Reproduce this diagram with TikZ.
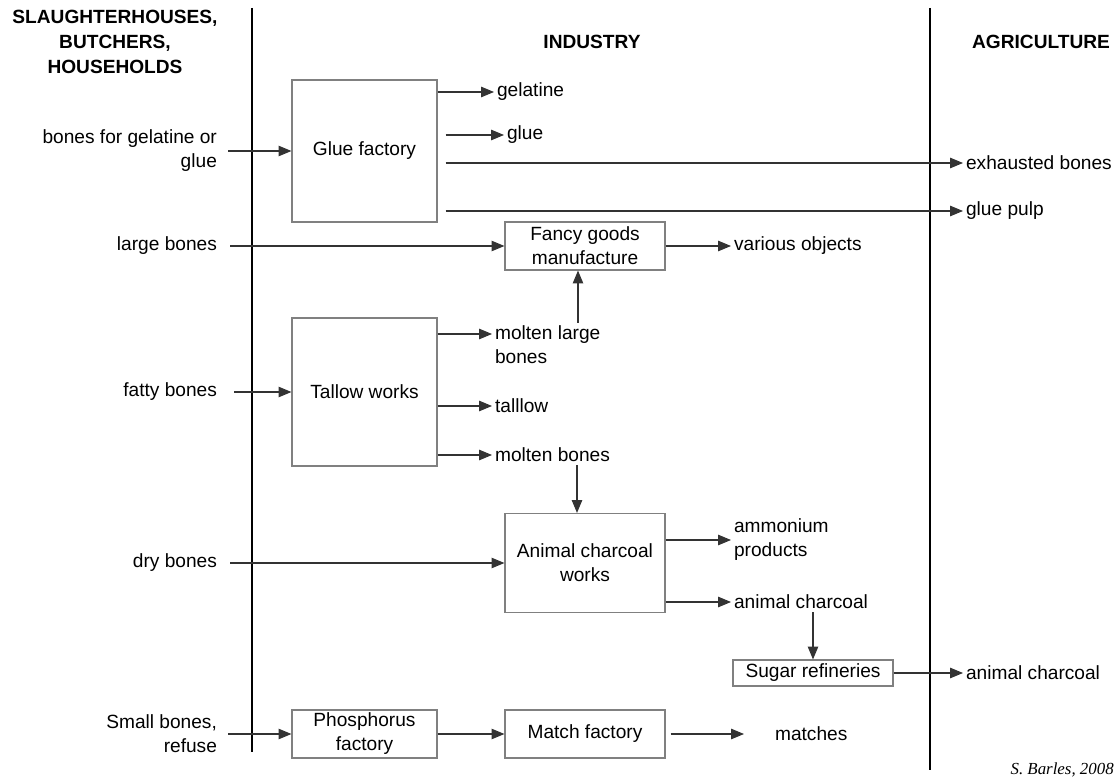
\documentclass[tikz,border=0pt]{standalone}
\usepackage{fontspec}
\setmainfont{Liberation Sans}
\newfontfamily\creditfont{Liberation Serif}
\usetikzlibrary{arrows.meta}

\begin{document}
\begin{tikzpicture}[x = 0.025cm, y = -0.025cm,
		txt/.style = {font = \fontsize{13.6}{17}\selectfont, inner sep = 2pt},
		head/.style = {font = \fontsize{13.6}{17.5}\selectfont\bfseries, align = center, inner sep = 0pt},
		factory/.style = {txt, draw = gray, line width = 0.8pt, align = center, minimum width = #1},
		inlabel/.style = {txt, anchor = east, align = right},
		outlabel/.style = {txt, anchor = west, align = left},
		flow/.style = {draw = black!80, line width = 0.75pt, -{Triangle[length = 0.32cm, width = 0.26cm]}},
		divider/.style = {line width = 1.8pt}]
		\useasboundingbox (0, 0) rectangle (1118, 780);
		\draw[divider] (252, 8) -- (252, 752);
		\draw[divider] (930, 8) -- (930, 770);
		\node[head] (source) at (115, 42) {SLAUGHTERHOUSES,\\BUTCHERS,\\HOUSEHOLDS};
		\node[head] (industry) at (592, 42) {INDUSTRY};
		\node[head] (agriculture) at (1041, 42) {AGRICULTURE};
		%%%%%%%%%
		\node[factory = 3.625cm, minimum height = 3.55cm] (glue) at (364.5, 151) {Glue factory};
		\node[inlabel] (ingelatine) at (220, 151) {bones for gelatine or\\glue};
		\draw[flow] (ingelatine.east) ++(8, 0) -- (glue.west);
		\node[outlabel] (gelatine) at (494, 92) {gelatine};
		\draw[flow] (glue.east |- gelatine.west) -- (gelatine.west);
		\node[outlabel] (gluetxt) at (504, 135) {glue};
		\draw[flow] (glue.east |- gluetxt.west) ++(8, 0) -- (gluetxt.west);
		\node[outlabel] (exhausted) at (963, 163) {exhausted bones};
		\draw[flow] (glue.east |- exhausted.west) ++(8, 0) -- (exhausted.west);
		\node[outlabel] (pulp) at (963, 211) {glue pulp};
		\draw[flow] (glue.east |- pulp.west) ++(8, 0) -- (pulp.west);
		%%%%%%%%%
		\node[factory = 4cm, minimum height = 1.2cm] (fancy) at (585, 246) {Fancy goods\\manufacture};
		\node[inlabel] (inlarge) at (220, 246) {large bones};
		\draw[flow] (inlarge.east) ++(10, 0) -- (fancy.west);
		\node[outlabel] (objects) at (731, 246) {various objects};
		\draw[flow] (fancy.east |- objects.west) -- (objects.west);
		%%%%%%%%%
		\node[factory = 3.625cm, minimum height = 3.7cm] (tallow) at (364.5, 392) {Tallow works};
		\node[inlabel] (infatty) at (220, 392) {fatty bones};
		\draw[flow] (infatty.east) ++(14, 0) -- (tallow.west);
		\node[outlabel, anchor = north west] (moltenlarge) at (492, 323) {molten large\\bones};
		\draw[flow] (tallow.east |- 0, 334) -- (moltenlarge.west |- 0, 334);
		\draw[flow] (moltenlarge.north -| 578, 0) -- (fancy.south -| 578, 0);
		\node[outlabel] (tallowtxt) at (492, 406) {talllow};
		\draw[flow] (tallow.east |- tallowtxt.west) -- (tallowtxt.west);
		\node[outlabel] (moltenbones) at (492, 455) {molten bones};
		\draw[flow] (tallow.east |- moltenbones.west) -- (moltenbones.west);
		%%%%%%%%%
		\node[factory = 4cm, minimum height = 2.475cm] (charcoal) at (585, 563) {Animal charcoal\\works};
		\draw[flow] (moltenbones.south -| 577, 0) -- (charcoal.north -| 577, 0);
		\node[inlabel] (indry) at (220, 563) {dry bones};
		\draw[flow] (indry.east) ++(10, 0) -- (charcoal.west);
		\node[outlabel] (ammonium) at (731, 540) {ammonium\\products};
		\draw[flow] (charcoal.east |- ammonium.west) -- (ammonium.west);
		\node[outlabel] (charcoaltxt) at (731, 602) {animal charcoal};
		\draw[flow] (charcoal.east |- charcoaltxt.west) -- (charcoaltxt.west);
		%%%%%%%%%
		\node[factory = 4cm, minimum height = 0.65cm] (sugar) at (813, 673) {Sugar refineries};
		\draw[flow] (charcoaltxt.south -| sugar.north) -- (sugar.north);
		\node[outlabel] (charcoalout) at (963, 673) {animal charcoal};
		\draw[flow] (sugar.east) -- (charcoalout.west);
		%%%%%%%%%
		\node[factory = 3.625cm, minimum height = 1.2cm] (phosphorus) at (364.5, 734) {Phosphorus\\factory};
		\node[factory = 4cm, minimum height = 1.2cm] (match) at (585, 734) {Match factory};
		\node[inlabel] (insmall) at (220, 734) {Small bones,\\refuse};
		\draw[flow] (insmall.east) ++(8, 0) -- (phosphorus.west);
		\draw[flow] (phosphorus) -- (match);
		\node[outlabel] (matches) at (772, 734) {matches};
		\draw[flow, shorten >= 0.7cm] (match.east) ++(5, 0) -- (matches.west);
		\node[font = \fontsize{12}{14}\selectfont\creditfont\itshape, anchor = east, inner sep = 0pt] (credit) at (1114, 770) {S. Barles, 2008};
	\end{tikzpicture}
\end{document}
